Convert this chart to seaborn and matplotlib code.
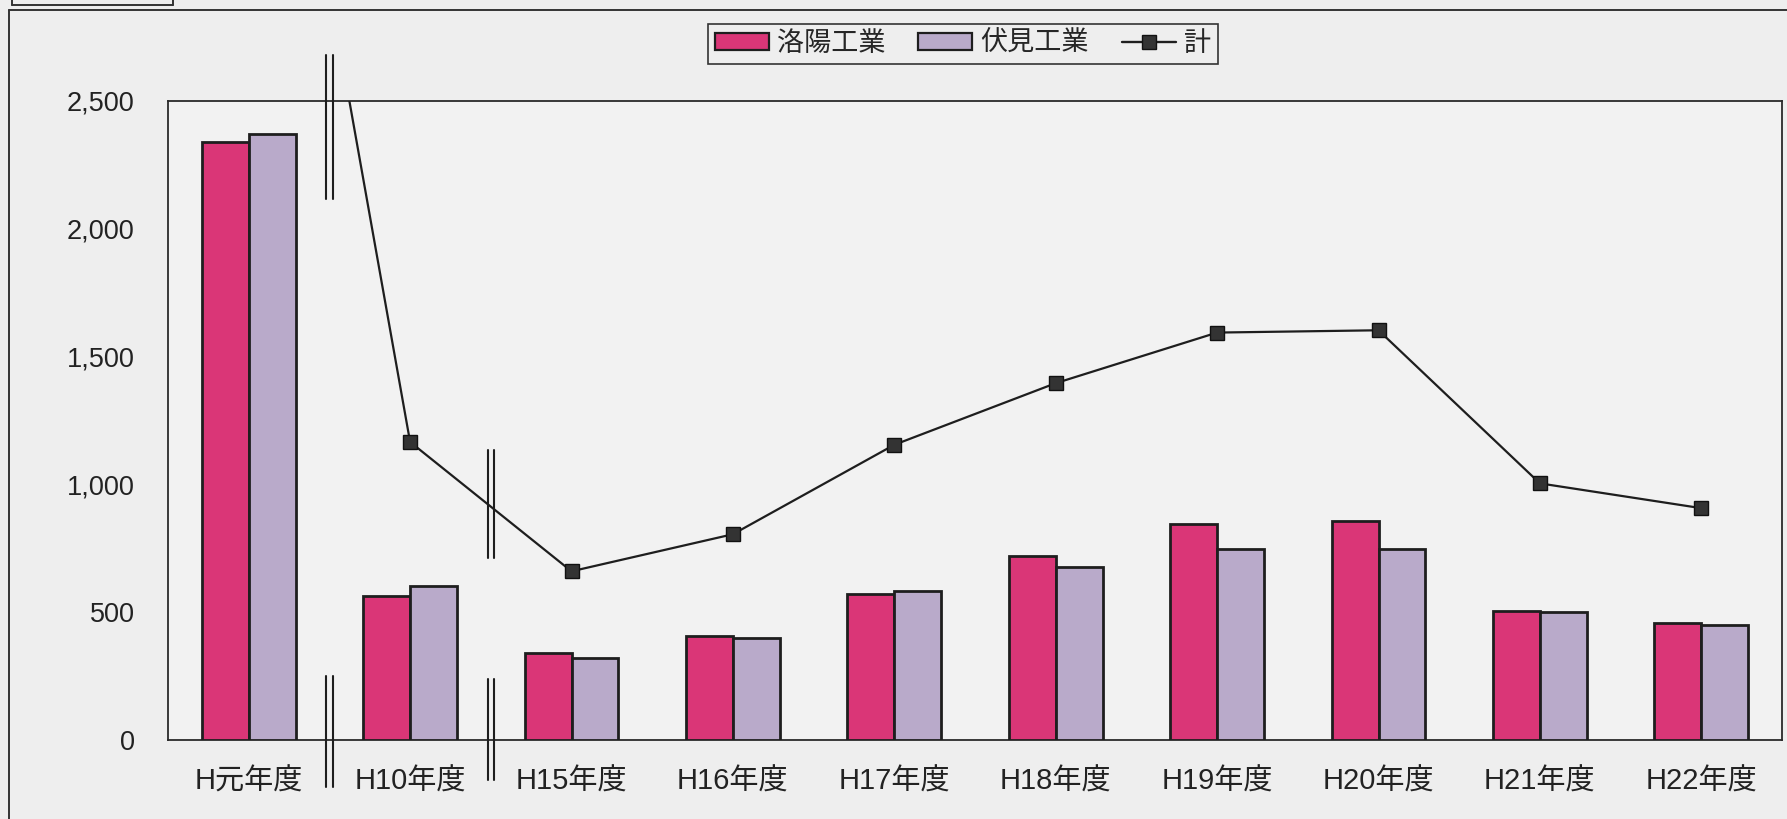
import numpy as np
import pandas as pd
import matplotlib
matplotlib.use("Agg")
import matplotlib.pyplot as plt
import matplotlib.transforms as mtransforms
from matplotlib.lines import Line2D
from matplotlib.patches import Patch
import seaborn as sns

# ---- data ---------------------------------------------------------------
years = ["H元年度", "H10年度", "H15年度", "H16年度", "H17年度",
         "H18年度", "H19年度", "H20年度", "H21年度", "H22年度"]
rakuyo = [2341, 562, 339, 407, 571, 721, 846, 855, 505, 457]
fushimi = [2371, 604, 321, 398, 584, 675, 748, 748, 499, 450]
total = [4712, 1166, 660, 805, 1155, 1396, 1594, 1603, 1004, 907]
series_names = ["洛陽工業", "伏見工業", "計"]
y_ticks = [0, 500, 1000, 1500, 2000, 2500]
y_tick_labels = ["0", "500", "1,000", "1,500", "2,000", "2,500"]

# ---- style --------------------------------------------------------------
RED = "#DA3677"
PURPLE = "#B9AACA"
PAPER = "#EEEEEE"
PLOT_BG = "#F2F2F2"
INK = "#1E1E1E"

sns.set_theme(style="white")
plt.rcParams["font.family"] = ["Liberation Sans", "Noto Sans CJK JP", "DejaVu Sans"]

W, H = 1787, 819
fig = plt.figure(figsize=(W / 100, H / 100), dpi=100, facecolor=PAPER)
ax = fig.add_axes([168 / W, 1 - 740 / H, (1782 - 168) / W, (740 - 101) / H])
ax.set_facecolor(PLOT_BG)

df = pd.DataFrame({
    "year": years * 2,
    "school": [series_names[0]] * len(years) + [series_names[1]] * len(years),
    "value": rakuyo + fushimi,
})

sns.barplot(data=df, x="year", y="value", hue="school", order=years,
            hue_order=series_names[:2], palette=[RED, PURPLE], saturation=1,
            width=0.58, edgecolor=INK, linewidth=2.0, legend=False, ax=ax,
            zorder=3)

ax.plot(np.arange(len(years)), total, color=INK, lw=1.6, marker="s",
        markersize=9.5, markerfacecolor="#333333", markeredgecolor="#111111",
        zorder=5)

ax.set_xlim(-0.5, len(years) - 0.5)
ax.set_ylim(0, 2500)
ax.set_yticks(y_ticks)
ax.set_yticklabels(y_tick_labels)
ax.set_xlabel("")
ax.set_ylabel("")
ax.tick_params(axis="y", direction="in", length=7, width=1.2, color=INK,
               labelsize=19.5, pad=24, labelcolor="#222222")
ax.tick_params(axis="x", which="major", length=0, labelsize=21, pad=20,
               labelcolor="#222222")
ax.set_xticks(np.arange(0.5, len(years) - 0.5, 1), minor=True)
ax.tick_params(axis="x", which="minor", direction="in", length=5, width=1,
               color="#555555")
for s in ax.spines.values():
    s.set_visible(True)
    s.set_color("#2A2A2A")
    s.set_linewidth(1.3)
ax.grid(False)

# axis-break marks between the non-contiguous years
trans = mtransforms.blended_transform_factory(ax.transData, ax.transAxes)
half_gap = 3.2 / 161.4
breaks = [(0.5, 1.072, 0.847), (0.5, 0.100, -0.074),
          (1.5, 0.454, 0.285), (1.5, 0.095, -0.063)]
for xc, y0, y1 in breaks:
    for dx in (-half_gap, half_gap):
        ax.add_line(Line2D([xc + dx, xc + dx], [y0, y1], transform=trans,
                           color=INK, lw=1.5, clip_on=False, zorder=6))

# legend
handles = [
    Patch(facecolor=RED, edgecolor=INK, linewidth=1.6),
    Patch(facecolor=PURPLE, edgecolor=INK, linewidth=1.6),
    Line2D([], [], color=INK, lw=1.7, marker="s", markersize=10,
           markerfacecolor="#333333", markeredgecolor="#111111"),
]
leg = fig.legend(handles, series_names, loc="center",
                 bbox_to_anchor=(963 / W, 1 - 44 / H), ncol=3,
                 fontsize=19.5, frameon=True, fancybox=False,
                 edgecolor="#333333", facecolor=PAPER, framealpha=1,
                 handlelength=2.0, handleheight=0.55, handletextpad=0.3,
                 columnspacing=1.2, borderpad=0.25)
leg.get_frame().set_linewidth(1.2)

# outer frame and the small box at the upper left
def fig_line(xs, ys, lw=1.4):
    fig.add_artist(Line2D([x / W for x in xs], [1 - y / H for y in ys],
                          transform=fig.transFigure, color="#333333", lw=lw))

fig_line([9, W], [10, 10])
fig_line([9, 9], [10, H])
fig_line([12, 12], [0, 5])
fig_line([12, 173], [5, 5])
fig_line([173, 173], [0, 5])

fig.savefig("out.png", dpi=100, facecolor=PAPER)
